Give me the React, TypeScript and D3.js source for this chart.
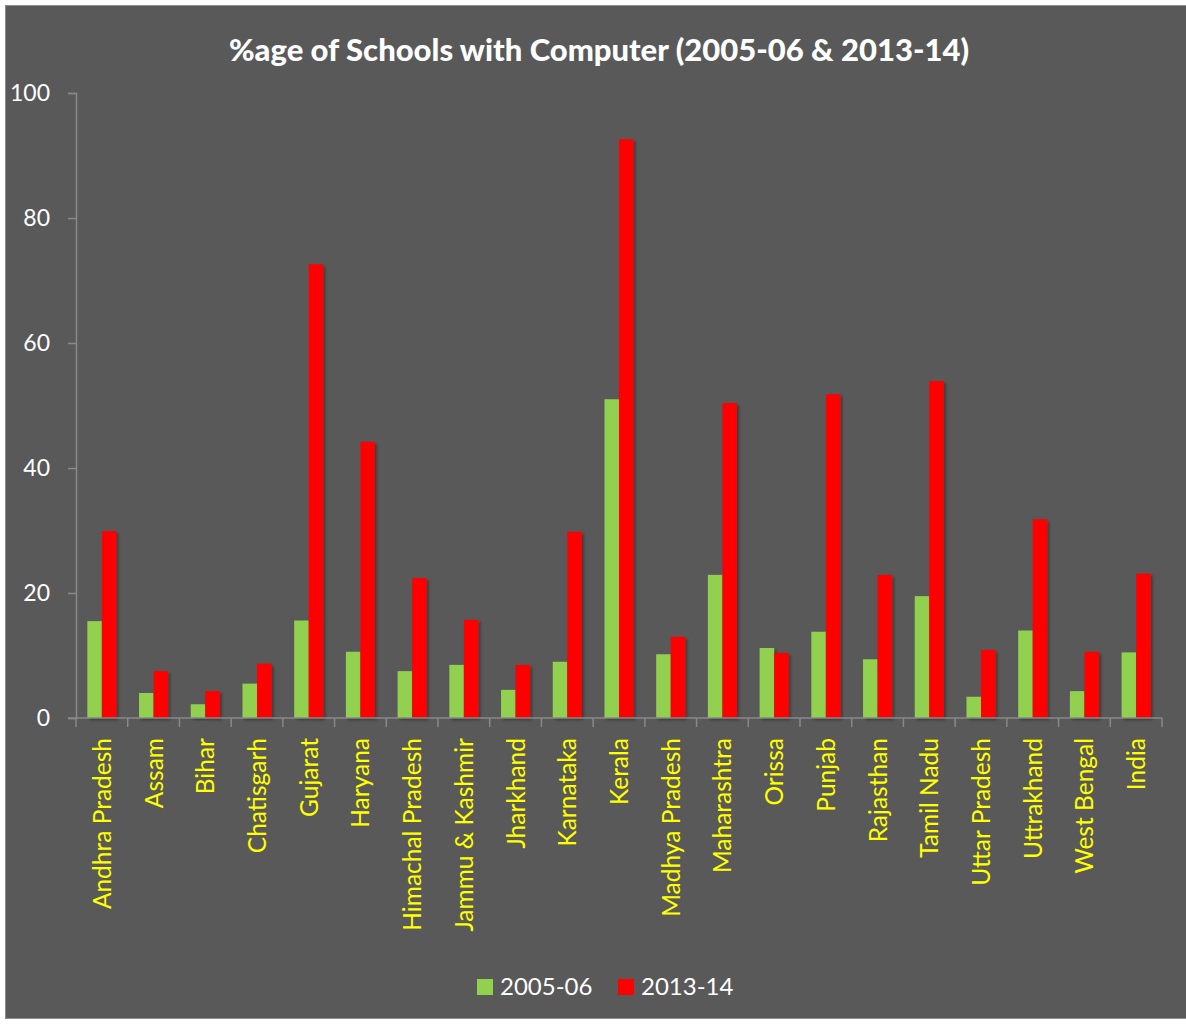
import { useEffect, useRef } from "react";
import * as d3 from "d3";

// States / UTs as shown on the x axis
const STATES = [
	"Andhra Pradesh", "Assam", "Bihar", "Chatisgarh", "Gujarat", "Haryana",
	"Himachal Pradesh", "Jammu & Kashmir", "Jharkhand", "Karnataka", "Kerala",
	"Madhya Pradesh", "Maharashtra", "Orissa", "Punjab", "Rajasthan",
	"Tamil Nadu", "Uttar Pradesh", "Uttrakhand", "West Bengal", "India",
];

// %age of schools with computer
const VALUES_2005 = [
	15.5, 4.0, 2.2, 5.5, 15.6, 10.6, 7.5, 8.5, 4.5, 9.0, 51.0,
	10.2, 22.9, 11.2, 13.8, 9.4, 19.5, 3.4, 14.0, 4.3, 10.5,
];
const VALUES_2013 = [
	29.9, 7.5, 4.3, 8.7, 72.6, 44.2, 22.4, 15.7, 8.5, 29.8, 92.6,
	13.0, 50.4, 10.4, 51.8, 22.9, 53.9, 10.9, 31.8, 10.6, 23.1,
];

const SERIES = ["2005-06", "2013-14"];
const Y_TICKS = [0, 20, 40, 60, 80, 100];
const COLORS = ["#92d050", "#ff0000"];

const FONT = "Lato, 'Open Sans', sans-serif";

export default function App() {
	const ref = useRef<SVGSVGElement>(null);

	useEffect(() => {
		const svg = d3.select(ref.current);
		svg.selectAll("*").remove();

		const W = 1186;
		const H = 1024;

		// Outer frame
		svg.append("rect").attr("width", W).attr("height", H).attr("fill", "#ffffff");
		svg.append("rect")
			.attr("x", 5.5).attr("y", 5.5)
			.attr("width", W).attr("height", 1013)
			.attr("fill", "#595959")
			.attr("stroke", "#8c8c8c");

		const defs = svg.append("defs");
		defs.append("filter")
			.attr("id", "bar-shadow")
			.attr("x", "-20%").attr("y", "-20%")
			.attr("width", "160%").attr("height", "140%")
			.append("feDropShadow")
			.attr("dx", 2).attr("dy", 2)
			.attr("stdDeviation", 1.5)
			.attr("flood-color", "#000")
			.attr("flood-opacity", 0.35);

		// Plot area
		const left = 76, right = 1162, top = 93, bottom = 718;

		const x0 = d3.scaleBand<string>()
			.domain(STATES)
			.range([left, right]);

		// two bars side by side, centred in each band
		const x1 = d3.scaleBand<string>()
			.domain(SERIES)
			.range([0, x0.bandwidth()])
			.paddingOuter(0.78)
			.paddingInner(0);

		const y = d3.scaleLinear()
			.domain([0, 100])
			.range([bottom, top]);

		// Title
		svg.append("text")
			.attr("x", 599)
			.attr("y", 61)
			.attr("text-anchor", "middle")
			.attr("fill", "#ffffff")
			.attr("font-family", FONT)
			.attr("font-weight", 900)
			.attr("font-size", "31px")
			.text("%age of Schools with Computer (2005-06 & 2013-14)");

		// Bars
		const groups = svg.append("g")
			.selectAll("g")
			.data(STATES)
			.join("g")
			.attr("transform", d => `translate(${x0(d)},0)`);

		groups.selectAll("rect")
			.data((_, i) => [VALUES_2005[i], VALUES_2013[i]].map((v, k) => ({ v, k })))
			.join("rect")
			.attr("x", d => x1(SERIES[d.k])!)
			.attr("y", d => y(d.v))
			.attr("width", x1.bandwidth())
			.attr("height", d => bottom - y(d.v))
			.attr("fill", d => COLORS[d.k])
			.attr("filter", "url(#bar-shadow)");

		// Y axis
		const yAxis = svg.append("g")
			.attr("transform", `translate(${left},0)`)
			.call(d3.axisLeft(y).tickValues(Y_TICKS).tickSize(8).tickPadding(18));
		yAxis.select(".domain").attr("stroke", "#898989").attr("stroke-width", 1.5);
		yAxis.selectAll(".tick line").attr("stroke", "#898989").attr("stroke-width", 1.5);
		yAxis.selectAll(".tick text")
			.attr("fill", "#ffffff")
			.attr("font-family", FONT)
			.attr("font-size", "23px");

		// X axis (ticks at band boundaries)
		const xAxis = svg.append("g")
			.attr("transform", `translate(0,${bottom})`);
		xAxis.append("line")
			.attr("x1", left - 8).attr("x2", right)
			.attr("stroke", "#898989").attr("stroke-width", 1.5);
		xAxis.selectAll(".xtick")
			.data([...STATES.map(s => x0(s)!), right])
			.join("line")
			.attr("class", "xtick")
			.attr("x1", d => d).attr("x2", d => d)
			.attr("y1", 0).attr("y2", 9)
			.attr("stroke", "#898989").attr("stroke-width", 1.5);

		xAxis.selectAll(".xlabel")
			.data(STATES)
			.join("text")
			.attr("class", "xlabel")
			.attr("transform", d => `translate(${x0(d)! + x0.bandwidth() / 2 + 9},20) rotate(-90)`)
			.attr("text-anchor", "end")
			.attr("fill", "#ffff00")
			.attr("font-family", FONT)
			.attr("font-size", "24.5px")
			.text(d => d);

		// Legend
		const legend = svg.append("g");
		const legendX = [477, 618];
		SERIES.forEach((s, i) => {
			legend.append("rect")
				.attr("x", legendX[i]).attr("y", 979)
				.attr("width", 16).attr("height", 16)
				.attr("fill", COLORS[i]);
			legend.append("text")
				.attr("x", legendX[i] + 23)
				.attr("y", 995)
				.attr("fill", "#ffffff")
				.attr("font-family", FONT)
				.attr("font-size", "24px")
				.text(s);
		});
	}, []);

	return (
		<svg
			ref={ref}
			width={1186}
			height={1024}
			style={{ position: "absolute", left: 0, top: 0 }}
		/>
	);
}
